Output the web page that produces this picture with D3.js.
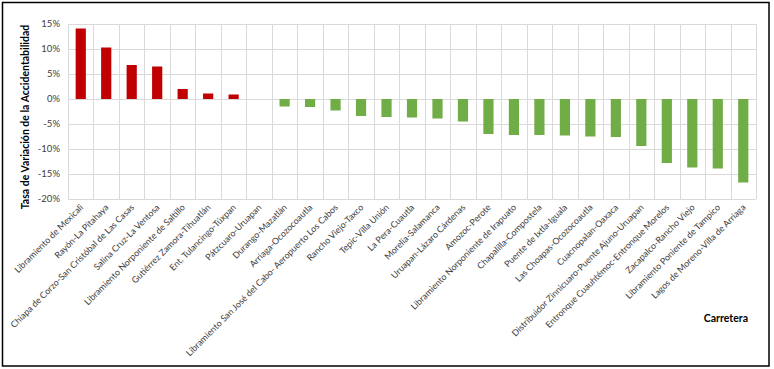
<!DOCTYPE html>
<html>
<head>
<meta charset="utf-8">
<script src="https://cdn.jsdelivr.net/npm/d3@7"></script>
<style>
  html, body { margin: 0; padding: 0; background: #fff; }
  svg { display: block; font-family: Lato, "Open Sans", sans-serif; }
  .grid line { stroke: #d9d9d9; stroke-width: 1; }
  .tick-y { font-size: 9.5px; fill: #404040; }
  .tick-x { font-size: 8.9px; fill: #404040; }
  .ttl { font-size: 10.5px; font-weight: 700; fill: #000; }
</style>
</head>
<body>
<div id="chart"></div>
<script>
// ---- data ----
var roads = [
  "Libramiento de Mexicali",
  "Rayón-La Pitahaya",
  "Chiapa de Corzo-San Cristóbal de Las Casas",
  "Salina Cruz-La Ventosa",
  "Libramiento Norponiente de Saltillo",
  "Gutiérrez Zamora-Tihuatlán",
  "Ent. Tulancingo-Túxpan",
  "Pátzcuaro-Uruapan",
  "Durango-Mazatlán",
  "Arriaga-Ocozocoautla",
  "Libramiento San José del Cabo- Aeropuerto Los Cabos",
  "Rancho Viejo-Taxco",
  "Tepic-Villa Unión",
  "La Pera-Cuautla",
  "Morelia-Salamanca",
  "Uruapan-Lázaro Cárdenas",
  "Amozoc-Perote",
  "Libramiento Norponiente de Irapuato",
  "Chapalilla-Compostela",
  "Puente de Ixtla-Iguala",
  "Las Choapas-Ocozocoautla",
  "Cuacnopalan-Oaxaca",
  "Distribuidor Zinnicuaro-Puente Ajuno-Uruapan",
  "Entronque Cuauhtémoc-Entronque Morelos",
  "Zacapalco-Rancho Viejo",
  "Libramiento Poniente de Tampico",
  "Lagos de Moreno-Villa de Arriaga"
];
var rates = [
  14.1, 10.3, 6.8, 6.5, 2.0, 1.1, 0.9, 0.0, -1.5, -1.6, -2.3, -3.4, -3.6, -3.7,
  -3.9, -4.5, -7.0, -7.2, -7.2, -7.3, -7.5, -7.6, -9.4, -12.8, -13.7, -13.9, -16.7
];
var yTicks = [15, 10, 5, 0, -5, -10, -15, -20];
var yTitle = "Tasa de Variación de la Accidentabilidad";
var xTitle = "Carretera";

var W = 774, H = 369;
var m = { left: 68, right: 18, top: 24, bottom: 170 };
var iw = W - m.left - m.right, ih = H - m.top - m.bottom;

var svg = d3.select("#chart").append("svg").attr("width", W).attr("height", H);

// outer frame
svg.append("rect").attr("x", 2.5).attr("y", 2.5).attr("width", 766.5).attr("height", 363.5)
  .attr("fill", "none").attr("stroke", "#000").attr("stroke-width", 1.5);

var g = svg.append("g").attr("transform", "translate(" + m.left + "," + m.top + ")");

var x = d3.scaleBand().domain(roads).range([0, iw]).padding(0);
var y = d3.scaleLinear().domain([-20, 15]).range([ih, 0]);
var bw = x.bandwidth() * 0.4;

// gridlines: horizontal at ticks, vertical at category boundaries
var grid = g.append("g").attr("class", "grid");
grid.selectAll(".h").data(yTicks).enter().append("line")
  .attr("x1", 0).attr("x2", iw)
  .attr("y1", function (d) { return Math.round(y(d)) + 0.5; })
  .attr("y2", function (d) { return Math.round(y(d)) + 0.5; });
var bounds = roads.map(function (r) { return x(r); }).concat([iw]);
grid.selectAll(".v").data(bounds).enter().append("line")
  .attr("x1", function (d) { return Math.round(d) + 0.5; })
  .attr("x2", function (d) { return Math.round(d) + 0.5; })
  .attr("y1", 0).attr("y2", ih);

// bars
g.selectAll(".bar").data(rates).enter().append("rect")
  .attr("x", function (d, i) { return x(roads[i]) + (x.bandwidth() - bw) / 2; })
  .attr("y", function (d) { return y(Math.max(0, d)); })
  .attr("width", bw)
  .attr("height", function (d) { return Math.abs(y(d) - y(0)); })
  .attr("fill", function (d) { return d > 0 ? "#c00000" : "#70ad47"; });

// y tick labels
g.selectAll(".tick-y").data(yTicks).enter().append("text").attr("class", "tick-y")
  .attr("x", -8).attr("y", function (d) { return y(d); }).attr("dy", "0.35em")
  .attr("text-anchor", "end")
  .text(function (d) { return d + "%"; });

// x tick labels, rotated 45°
g.selectAll(".tick-x").data(roads).enter().append("text").attr("class", "tick-x")
  .attr("text-anchor", "end")
  .attr("transform", function (d) {
    return "translate(" + (x(d) + x.bandwidth() / 2 + 3) + "," + (ih + 9) + ") rotate(-45)";
  })
  .text(function (d) { return d; });

// axis titles
svg.append("text").attr("class", "ttl")
  .attr("transform", "translate(29,117) rotate(-90)")
  .attr("text-anchor", "middle").text(yTitle);
svg.append("text").attr("class", "ttl")
  .attr("x", 748).attr("y", 322).attr("text-anchor", "end").text(xTitle);
</script>
</body>
</html>
